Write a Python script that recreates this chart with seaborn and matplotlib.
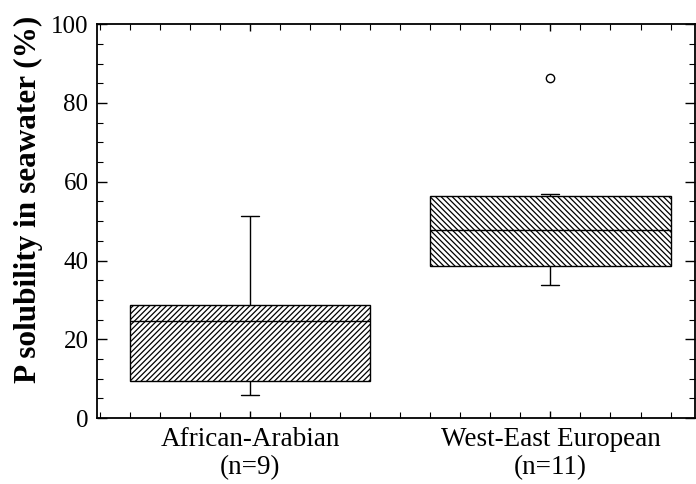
import pandas as pd
import matplotlib
matplotlib.use("Agg")
import matplotlib.pyplot as plt
from matplotlib.ticker import MultipleLocator
import seaborn as sns

# P solubility values (%), per region
african_arabian = [5.8, 8.0, 9.4, 15.0, 24.6, 27.0, 28.7, 40.0, 51.3]
west_east_european = [33.8, 36.0, 38.4, 38.8, 44.0, 47.7, 52.0, 56.0, 56.6, 57.0, 86.3]
group_labels = ["African-Arabian\n(n=9)", "West-East European\n(n=11)"]

df = pd.DataFrame({
    "group": [group_labels[0]] * len(african_arabian) + [group_labels[1]] * len(west_east_european),
    "value": african_arabian + west_east_european,
})

sns.set_style("ticks", {"axes.edgecolor": "black", "text.color": "black",
                        "xtick.color": "black", "ytick.color": "black",
                        "axes.labelcolor": "black"})
plt.rcParams['font.family'] = ['Liberation Serif', 'DejaVu Serif']
plt.rcParams['hatch.linewidth'] = 0.9

fig = plt.figure(figsize=(6.96, 4.84), dpi=100)
ax = fig.add_axes([0.139, 0.136, 0.859, 0.814])

sns.boxplot(data=df, x="group", y="value", order=group_labels, ax=ax,
            color="white", linecolor="black", linewidth=1.0, width=0.8,
            capwidths=0.06,
            flierprops=dict(marker="o", markerfacecolor="white",
                            markeredgecolor="black", markersize=6, markeredgewidth=1.0))

hatches = ["//////", "\\\\\\\\\\\\"]
for patch, h in zip(ax.patches, hatches):
    patch.set_hatch(h)
    patch.set_facecolor("white")
    patch.set_edgecolor("black")

ax.set_ylim(0, 100)
ax.set_xlim(-0.51, 1.48)
ax.set_xlabel("")
ax.set_ylabel("P solubility in seawater (%)", fontsize=22.5, fontweight="bold")
ax.yaxis.set_label_coords(-0.09, 0.555)

ax.yaxis.set_major_locator(MultipleLocator(20))
ax.yaxis.set_minor_locator(MultipleLocator(5))
ax.xaxis.set_minor_locator(MultipleLocator(0.1))
ax.tick_params(axis="both", which="both", direction="in", top=True, right=True)
ax.tick_params(axis="y", which="major", length=7, width=1.0, labelsize=18, pad=6)
ax.tick_params(axis="y", which="minor", length=4, width=0.8)
ax.tick_params(axis="x", which="major", length=5, width=1.0, labelsize=19.5, pad=6)
ax.tick_params(axis="x", which="minor", length=4, width=0.8)

for s in ax.spines.values():
    s.set_linewidth(1.3)
    s.set_visible(True)

fig.savefig("out.png", dpi=100)
